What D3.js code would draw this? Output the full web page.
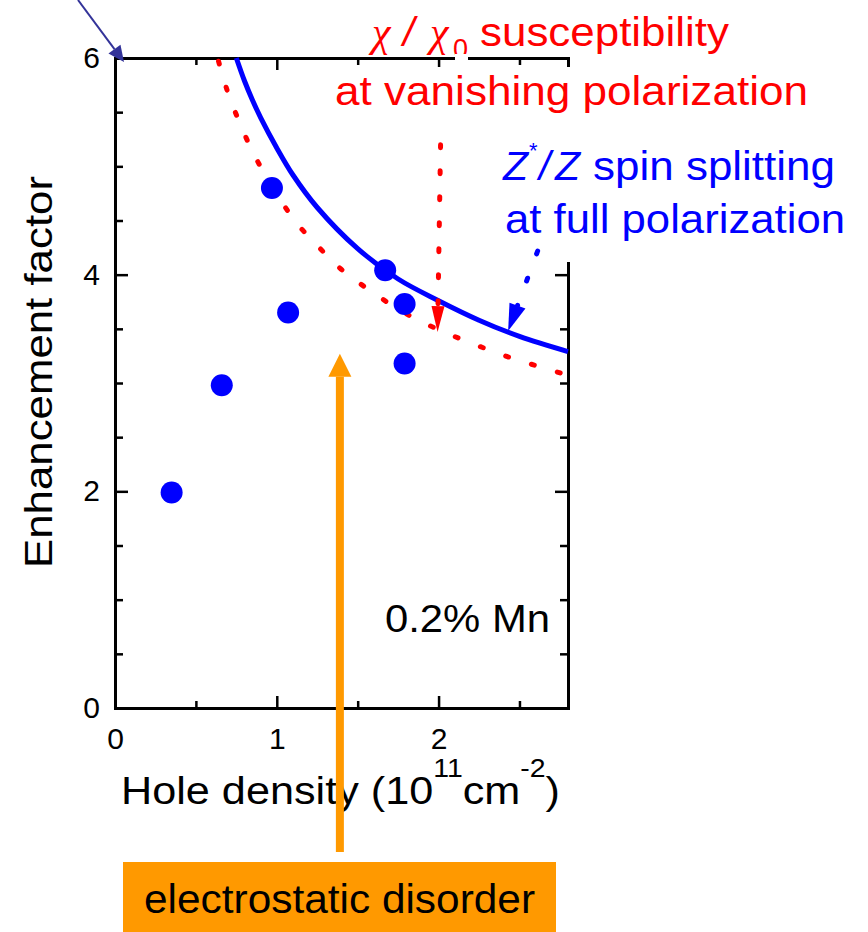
<!DOCTYPE html>
<html>
<head>
<meta charset="utf-8">
<script src="https://cdn.jsdelivr.net/npm/d3@7"></script>
<style>
  body { margin: 0; background: #fff; }
  svg { display: block; font-family: "Liberation Sans", Arial, sans-serif; }
</style>
</head>
<body>
<svg id="chart" width="868" height="932"></svg>
<script>
// measured enhancement factors, 0.2% Mn sample
const densities   = [0.35, 0.66, 0.97, 1.07, 1.67, 1.79, 1.79];
const enhancement = [1.99, 2.98, 4.80, 3.65, 4.04, 3.73, 3.18];

// Z*/Z spin splitting at full polarization (solid blue)
const splitX = [0.75, 0.8, 0.85, 0.9, 1.0, 1.1, 1.25, 1.5, 1.75, 2.0, 2.25, 2.5, 2.8];
const splitY = [6.0, 5.79, 5.61, 5.45, 5.17, 4.92, 4.62, 4.24, 3.96, 3.76, 3.58, 3.43, 3.29];

// chi/chi0 susceptibility at vanishing polarization (red dotted)
const suscX = [0.64, 0.70, 0.76, 0.83, 0.91, 1.11, 1.25, 1.39, 1.55, 1.70, 1.86, 2.02, 2.18, 2.34, 2.49, 2.65, 2.8];
const suscY = [5.97, 5.67, 5.44, 5.20, 4.97, 4.50, 4.27, 4.06, 3.88, 3.73, 3.59, 3.48, 3.38, 3.29, 3.21, 3.14, 3.07];

const xMajor = [0, 1, 2];
const xMinor = [0.5, 1.5, 2.5];
const yMajor = [0, 2, 4, 6];
const yMinor = [0.5, 1, 1.5, 2.5, 3, 3.5, 4.5, 5, 5.5];

const svg = d3.select("#chart");
const m = {left: 115, right: 568, top: 58, bottom: 708};

const x = d3.scaleLinear().domain([0, 2.8]).range([m.left, m.right]);
const y = d3.scaleLinear().domain([0, 6]).range([m.bottom, m.top]);

// ticks point inwards, majors longer
function styleAxis(g, size) {
  g.attr("font-size", size).attr("font-family", null);
  g.selectAll("path.domain").attr("stroke-width", 3);
  g.selectAll(".tick line").attr("stroke-width", 2.5);
  g.selectAll(".tick text").attr("fill", "#000");
}

svg.append("g").attr("transform", `translate(0,${m.bottom})`)
  .call(d3.axisBottom(x).tickValues(xMajor).tickSize(-12).tickPadding(20).tickFormat(d3.format("d")))
  .call(styleAxis, 30);
svg.append("g").attr("transform", `translate(0,${m.bottom})`)
  .call(d3.axisBottom(x).tickValues(xMinor).tickSize(-7).tickFormat(""))
  .call(styleAxis, 30);
svg.append("g").attr("transform", `translate(0,${m.top})`)
  .call(d3.axisTop(x).tickValues(xMajor).tickSize(-12).tickFormat(""))
  .call(styleAxis, 30);
svg.append("g").attr("transform", `translate(0,${m.top})`)
  .call(d3.axisTop(x).tickValues(xMinor).tickSize(-7).tickFormat(""))
  .call(styleAxis, 30);

svg.append("g").attr("transform", `translate(${m.left},0)`)
  .call(d3.axisLeft(y).tickValues(yMajor).tickSize(-13).tickPadding(15).tickFormat(d3.format("d")))
  .call(styleAxis, 30);
svg.append("g").attr("transform", `translate(${m.left},0)`)
  .call(d3.axisLeft(y).tickValues(yMinor).tickSize(-8).tickFormat(""))
  .call(styleAxis, 30);
svg.append("g").attr("transform", `translate(${m.right},0)`)
  .call(d3.axisRight(y).tickValues(yMajor).tickSize(-13).tickFormat(""))
  .call(styleAxis, 30);
svg.append("g").attr("transform", `translate(${m.right},0)`)
  .call(d3.axisRight(y).tickValues(yMinor).tickSize(-8).tickFormat(""))
  .call(styleAxis, 30);

// curves
const line = d3.line().x(d => x(d[0])).y(d => y(d[1])).curve(d3.curveCatmullRom);

svg.append("path")
  .attr("d", line(d3.zip(suscX, suscY)))
  .attr("fill", "none").attr("stroke", "#ff0000").attr("stroke-width", 5)
  .attr("stroke-dasharray", "3,24").attr("stroke-linecap", "round");

svg.append("path")
  .attr("d", line(d3.zip(splitX, splitY)))
  .attr("fill", "none").attr("stroke", "#0000ff").attr("stroke-width", 5);

svg.selectAll("circle.pt")
  .data(d3.zip(densities, enhancement))
  .join("circle").attr("class", "pt")
  .attr("cx", d => x(d[0])).attr("cy", d => y(d[1])).attr("r", 11)
  .attr("fill", "#0000ff");

// text boxes have white fills that hide part of the right axis
svg.append("rect").attr("x", 330).attr("y", 67).attr("width", 490).attr("height", 56).attr("fill", "#fff");
svg.append("rect").attr("x", 496).attr("y", 123).attr("width", 365).attr("height", 139).attr("fill", "#fff");

// filled arrow head, tip at [tx,ty], pointing away from [fx,fy]
function arrowHead(tx, ty, fx, fy, len, wid) {
  const dx = tx - fx, dy = ty - fy, n = Math.hypot(dx, dy);
  const ux = dx / n, uy = dy / n;
  const bx = tx - ux * len, by = ty - uy * len;
  return [[tx, ty], [bx - uy * wid / 2, by + ux * wid / 2], [bx + uy * wid / 2, by - ux * wid / 2]];
}
function drawArrow(from, tip, color, width, len, wid, dash) {
  const h = arrowHead(tip[0], tip[1], from[0], from[1], len, wid);
  const bx = (h[1][0] + h[2][0]) / 2, by = (h[1][1] + h[2][1]) / 2;
  const l = svg.append("line")
    .attr("x1", from[0]).attr("y1", from[1]).attr("x2", bx).attr("y2", by)
    .attr("stroke", color).attr("stroke-width", width);
  if (dash) l.attr("stroke-dasharray", dash).attr("stroke-linecap", "round");
  svg.append("polygon").attr("points", h.map(p => p.join(",")).join(" ")).attr("fill", color);
}

// pointer to the top left corner of the frame
drawArrow([78, 0], [x(0) + 9, y(6) + 4], "#333399", 2, 16, 15);

// red dotted arrow down onto the susceptibility curve
drawArrow([x(2.0) + 2, y(5.2)], [x(2.0) - 1, y(3.47)], "#ff0000", 5, 26, 13, "3,23");

// blue dash arrow onto the spin splitting curve
drawArrow([x(2.6) + 2, y(4.2) - 2], [x(2.43), y(3.48)], "#0000ff", 5, 27, 17, "3,26");

// annotation text
const red = svg.append("g").attr("fill", "#ff0000");
red.append("text").attr("x", 372).attr("y", 46).attr("font-size", 42)
  .attr("font-family", "Liberation Serif, serif").attr("font-style", "italic").text("χ");
red.append("text").attr("x", 403).attr("y", 46).attr("font-size", 41).attr("font-style", "italic").text("/");
red.append("text").attr("x", 430).attr("y", 46).attr("font-size", 42)
  .attr("font-family", "Liberation Serif, serif").attr("font-style", "italic").text("χ");
svg.append("rect").attr("x", 455).attr("y", 54).attr("width", 13).attr("height", 8).attr("fill", "#fff");
red.append("text").attr("x", 453).attr("y", 58).attr("font-size", 27).text("0");
red.append("text").attr("x", 480).attr("y", 46).attr("font-size", 41)
  .attr("textLength", 249).attr("lengthAdjust", "spacingAndGlyphs").text("susceptibility");
red.append("text").attr("x", 335).attr("y", 105).attr("font-size", 41)
  .attr("textLength", 473).attr("lengthAdjust", "spacingAndGlyphs").text("at vanishing polarization");

const blue = svg.append("g").attr("fill", "#0000ff");
blue.append("text").attr("x", 503).attr("y", 180).attr("font-size", 41).attr("font-style", "italic").text("Z");
blue.append("text").attr("x", 529).attr("y", 158).attr("font-size", 22).text("*");
blue.append("text").attr("x", 539).attr("y", 180).attr("font-size", 41).attr("font-style", "italic").text("/");
blue.append("text").attr("x", 555).attr("y", 180).attr("font-size", 41).attr("font-style", "italic").text("Z");
blue.append("text").attr("x", 593).attr("y", 180).attr("font-size", 41)
  .attr("textLength", 242).attr("lengthAdjust", "spacingAndGlyphs").text("spin splitting");
blue.append("text").attr("x", 505).attr("y", 233).attr("font-size", 41)
  .attr("textLength", 340).attr("lengthAdjust", "spacingAndGlyphs").text("at full polarization");

svg.append("text").attr("x", 550).attr("y", 632).attr("font-size", 38).attr("text-anchor", "end")
  .attr("textLength", 165).attr("lengthAdjust", "spacingAndGlyphs").text("0.2% Mn");

// axis titles
svg.append("text").attr("transform", "translate(52,372) rotate(-90)")
  .attr("text-anchor", "middle").attr("font-size", 39)
  .attr("textLength", 392).attr("lengthAdjust", "spacingAndGlyphs").text("Enhancement factor");

const xt = svg.append("text").attr("x", 121).attr("y", 804).attr("font-size", 38)
  .attr("textLength", 439).attr("lengthAdjust", "spacingAndGlyphs");
xt.append("tspan").text("Hole density (10");
xt.append("tspan").attr("dy", -27).attr("font-size", 25).text("11");
xt.append("tspan").attr("dy", 27).text("cm");
xt.append("tspan").attr("dy", -27).attr("font-size", 25).text("-2");
xt.append("tspan").attr("dy", 27).text(")");

// electrostatic disorder label with its arrow
svg.append("rect").attr("x", 123).attr("y", 862).attr("width", 433).attr("height", 80).attr("fill", "#ff9900");
svg.append("text").attr("x", 144).attr("y", 913).attr("font-size", 40)
  .attr("textLength", 391).attr("lengthAdjust", "spacingAndGlyphs").text("electrostatic disorder");
drawArrow([x(1.39), 852], [x(1.39), y(3.27)], "#ff9900", 8, 23, 23);
</script>
</body>
</html>
